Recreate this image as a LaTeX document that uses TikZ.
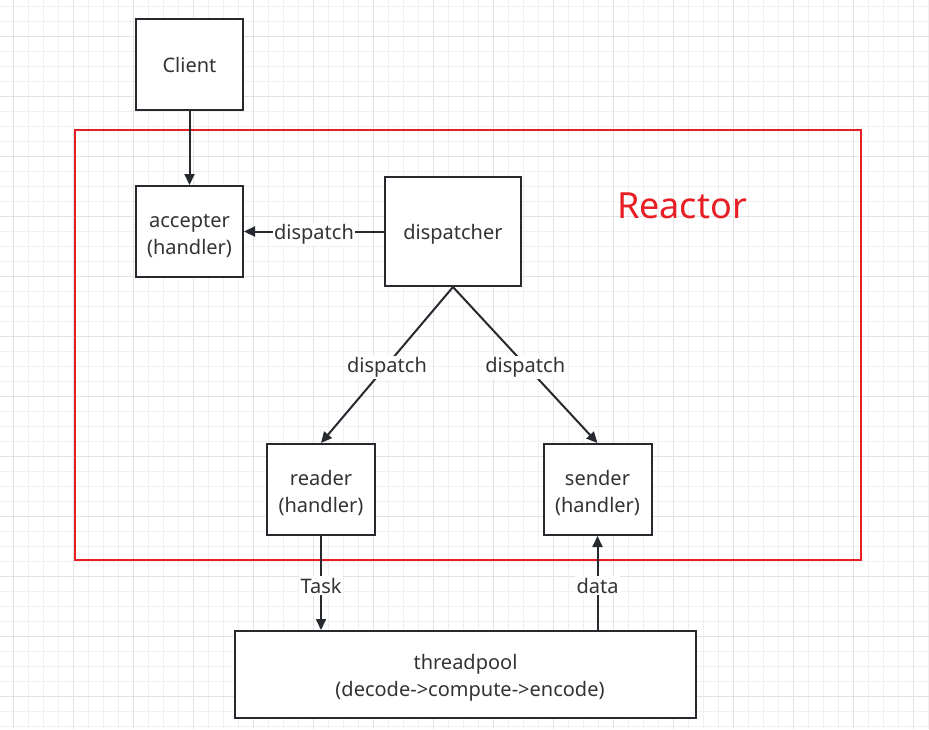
\documentclass[tikz,border=0pt]{standalone}
\usepackage{fontspec}
\setmainfont{Noto Sans}
\usetikzlibrary{arrows.meta}
\definecolor{gridminor}{HTML}{F0F0F0}
\definecolor{gridmajor}{HTML}{E2E2E2}
\definecolor{boxline}{HTML}{262A2E}
\definecolor{txt}{HTML}{333333}
\definecolor{reactred}{HTML}{E81E25}
\tikzset{
  box/.style={draw=boxline, line width=2pt, fill=white, text=txt, align=center,
    inner sep=2pt, font=\fontsize{20}{26.5}\selectfont},
  oneline/.style={text height=20.5pt},
  twoline/.style={text height=48.5pt},
  conn/.style={draw=boxline, line width=2pt, -{Triangle[length=11pt,width=10pt]}},
  lbl/.style={fill=white, text=txt, inner sep=1.5pt, yshift=-2.5pt, font=\fontsize{20}{26.5}\selectfont},
}
\begin{document}
\begin{tikzpicture}[x=1pt,y=-1pt]
\useasboundingbox (0,0) rectangle (929,729);
\fill[white] (0,0) rectangle (929,729);
% grid
\foreach \i in {0,...,61} \draw[gridminor, line width=1pt] ({13+15*\i},0) -- ({13+15*\i},729);
\foreach \j in {0,...,48} \draw[gridminor, line width=1pt] (0,{6.7+15*\j}) -- (929,{6.7+15*\j});
\foreach \i in {0,...,15} \draw[gridmajor, line width=1pt] ({13+60*\i},0) -- ({13+60*\i},729);
\foreach \j in {0,...,11} \draw[gridmajor, line width=1pt] (0,{36.7+60*\j}) -- (929,{36.7+60*\j});
% reactor frame
\node[draw=reactred, line width=1.6pt, minimum width=786pt, minimum height=430pt, inner sep=0pt] (reactorbox) at (468,345) {};
\node[text=reactred, font=\fontsize{36}{40}\selectfont, inner sep=0pt] (reactorlabel) at (682,206) {Reactor};
% nodes
\node[box, text height=16pt, minimum width=107pt, minimum height=91pt] (client) at (189.5,64.5) {Client};
\node[box, twoline, minimum width=107pt, minimum height=91pt] (accepter) at (189.5,231.5) {accepter\\(handler)};
\node[box, oneline, minimum width=136pt, minimum height=109pt] (dispatcher) at (453,231.5) {dispatcher};
\node[box, twoline, minimum width=108pt, minimum height=91pt] (reader) at (321,489.5) {reader\\(handler)};
\node[box, twoline, minimum width=108pt, minimum height=91pt] (sender) at (597.5,489.5) {sender\\(handler)};
\node[box, twoline, minimum width=461pt, minimum height=87pt] (threadpool) at (465.5,674.5) {threadpool\\\hspace*{9pt}(decode->compute->encode)};
% connectors
\draw[conn] (client) -- (accepter);
\draw[conn] (dispatcher) -- node[lbl] {dispatch} (accepter);
\draw[conn] (dispatcher.south) -- node[lbl] {dispatch} (reader.north);
\draw[conn] (dispatcher.south) -- node[lbl] {dispatch} (sender.north);
\draw[conn] (reader.south) -- node[lbl] {Task} (reader.south |- threadpool.north);
\draw[conn] (sender.south |- threadpool.north) -- node[lbl] {data} (sender.south);
\end{tikzpicture}
\end{document}
